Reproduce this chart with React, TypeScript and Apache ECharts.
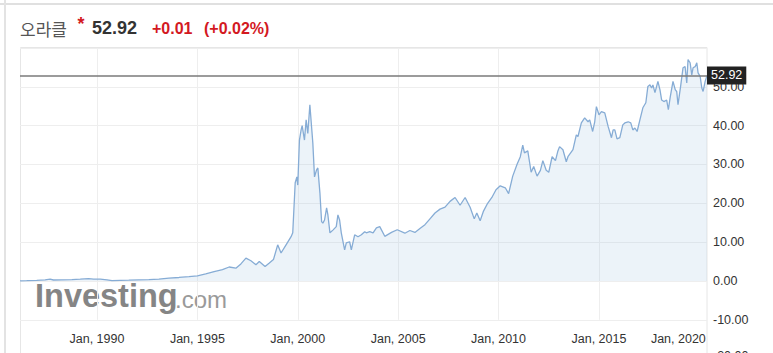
import React, { useEffect, useRef } from "react";
import * as echarts from "echarts";

const stockName = "오라클";
const lastPrice = 52.92;
const changeText = "+0.01";
const changePctText = "(+0.02%)";

const dates = [
  "1986-03-01", "1986-07-01", "1987-01-01", "1987-06-01", "1987-09-01", "1987-11-01",
  "1988-04-01", "1988-10-01", "1989-03-01", "1989-08-01", "1989-11-01", "1990-03-01",
  "1990-07-01", "1990-10-01", "1991-03-01", "1991-08-01", "1992-02-01", "1992-08-01",
  "1993-02-01", "1993-08-01", "1994-02-01", "1994-08-01", "1995-01-01", "1995-06-01",
  "1995-11-01", "1996-04-01", "1996-08-01", "1996-12-01", "1997-03-01", "1997-06-01",
  "1997-09-01", "1997-12-01", "1998-02-01", "1998-05-15", "1998-08-01", "1998-10-15",
  "1999-01-01", "1999-03-01", "1999-06-01", "1999-09-01", "1999-10-01", "1999-11-15",
  "1999-12-15", "2000-01-01", "2000-02-01", "2000-03-01", "2000-03-20", "2000-05-01",
  "2000-06-01", "2000-07-01", "2000-08-08", "2000-09-08", "2000-10-01", "2000-11-01",
  "2000-12-08", "2001-01-01", "2001-02-08", "2001-03-08", "2001-04-01", "2001-05-01",
  "2001-06-08", "2001-07-01", "2001-08-08", "2001-10-01", "2001-12-01", "2002-01-01",
  "2002-02-01", "2002-03-01", "2002-05-01", "2002-06-01", "2002-08-01", "2002-09-01",
  "2002-11-01", "2003-01-01", "2003-03-01", "2003-05-01", "2003-06-01", "2003-08-01",
  "2003-10-01", "2003-12-01", "2004-02-01", "2004-05-01", "2004-09-01", "2004-12-15",
  "2005-05-01", "2005-08-01", "2005-11-01", "2006-02-01", "2006-05-01", "2006-08-01",
  "2006-11-01", "2007-02-01", "2007-05-01", "2007-08-01", "2007-11-01", "2008-02-01",
  "2008-05-01", "2008-08-01", "2008-10-15", "2008-12-01", "2009-02-01", "2009-04-01",
  "2009-06-15", "2009-09-01", "2009-11-15", "2010-02-01", "2010-05-01", "2010-07-01",
  "2010-09-15", "2010-12-01", "2011-02-01", "2011-03-15", "2011-04-15", "2011-06-15",
  "2011-08-15", "2011-10-01", "2011-12-01", "2012-02-01", "2012-03-15", "2012-05-15",
  "2012-07-01", "2012-09-01", "2012-11-01", "2012-12-15", "2013-01-15", "2013-03-15",
  "2013-05-15", "2013-06-15", "2013-09-15", "2013-11-15", "2013-12-15", "2014-02-15",
  "2014-04-15", "2014-06-15", "2014-07-15", "2014-09-08", "2014-10-15", "2014-11-15",
  "2015-01-01", "2015-02-15", "2015-04-15", "2015-06-15", "2015-08-15", "2015-09-15",
  "2015-10-15", "2015-11-25", "2016-01-15", "2016-03-08", "2016-04-15", "2016-06-15",
  "2016-08-01", "2016-09-08", "2016-10-15", "2016-11-25", "2017-01-15", "2017-03-08",
  "2017-05-01", "2017-06-08", "2017-07-15", "2017-08-15", "2017-09-08", "2017-10-15",
  "2017-12-08", "2018-01-15", "2018-02-15", "2018-03-25", "2018-05-15", "2018-06-15",
  "2018-07-20", "2018-09-08", "2018-10-20", "2018-11-15", "2018-12-08", "2019-01-25",
  "2019-03-08", "2019-04-15", "2019-05-15", "2019-06-08", "2019-07-15", "2019-08-15",
  "2019-09-08", "2019-10-15", "2019-11-15", "2019-12-08", "2020-01-15", "2020-02-15",
  "2020-03-08", "2020-04-15", "2020-05-18",
];

const prices = [
  0.05, 0.08, 0.15, 0.3, 0.45, 0.25,
  0.3, 0.35, 0.45, 0.6, 0.5, 0.45,
  0.3, 0.1, 0.15, 0.2, 0.3, 0.35,
  0.5, 0.75, 0.9, 1.1, 1.3, 1.8,
  2.4, 2.9, 3.6, 3.3, 4.4, 5.9,
  5.2, 4.2, 5.0, 3.7, 4.6, 5.5,
  9.3, 7.2, 9.3, 11.4, 12.4, 25.3,
  26.8, 24.7, 36.3, 38.9, 40.0, 36.3,
  41.5, 38.0, 45.4, 39.8, 35.5, 26.8,
  28.6, 29.1, 22.7, 15.3, 14.9, 15.7,
  18.8, 17.0, 12.4, 13.1, 14.0, 17.0,
  15.7, 12.4, 8.0, 9.8, 10.1, 8.0,
  11.9, 11.4, 11.9, 12.7, 12.4, 12.7,
  12.4, 13.7, 14.0, 11.5, 12.5, 13.2,
  12.3, 13.0, 12.5, 13.5, 14.5, 16.0,
  17.5, 18.5, 19.0, 20.5, 21.5, 19.5,
  21.5, 19.0, 16.0, 17.5, 15.5, 18.0,
  20.0, 21.5, 23.5, 24.5, 24.0, 22.5,
  27.0, 30.0, 32.0, 35.0, 33.0, 33.5,
  28.0, 29.5, 27.0, 28.5, 31.0, 28.5,
  28.0, 32.0, 31.0, 33.5, 34.6, 33.8,
  30.7, 32.0, 33.8, 37.6, 37.2, 40.7,
  42.0, 41.0, 41.5, 38.5, 41.0, 44.9,
  42.8, 43.6, 43.3, 39.8, 36.9, 38.9,
  38.9, 36.6, 36.9, 40.2, 40.7, 41.0,
  40.7, 38.9, 39.4, 38.5, 41.5, 44.6,
  45.9, 50.1, 50.5, 49.7, 50.5, 48.5,
  51.4, 49.2, 46.6, 46.2, 46.6, 44.1,
  47.5, 51.4, 49.2, 48.8, 45.4, 50.1,
  54.9, 55.2, 51.0, 57.0, 56.2, 53.1,
  54.9, 55.2, 56.2, 53.6, 52.7, 49.7,
  48.8, 51.4, 52.92,
];

const xLabelYears = [1990, 1995, 2000, 2005, 2010, 2015, 2020];
const xGridYears = [1990, 1995, 2000, 2005, 2010, 2015];
const yMin = -10;
const yMax = 60;
const yStep = 10;
const hiddenBottomLabel = "-20.00";

function toYear(s: string): number {
  const [y, m, d] = s.split("-").map(Number);
  return y + (m - 1) / 12 + ((d || 1) - 1) / 365;
}

const FONT = "'Liberation Sans', Arial, sans-serif";
const RED = "#d3191f";

export default function App() {
  const ref = useRef<HTMLDivElement>(null);

  useEffect(() => {
    if (!ref.current) return;
    const chart = echarts.init(ref.current, undefined, { renderer: "svg" });
    const seriesData = dates.map((d, i) => [toYear(d), prices[i]]);
    const lastYear = xLabelYears[xLabelYears.length - 1];

    chart.setOption({
      animation: false,
      grid: { left: 20, right: 66, top: 48, bottom: 33.2 },
      xAxis: {
        type: "value",
        min: toYear(dates[0]),
        max: toYear(dates[dates.length - 1]),
        axisLine: { show: false },
        axisTick: { show: false, customValues: xGridYears },
        splitLine: { show: true, lineStyle: { color: "#eeeeee", width: 1 } },
        axisLabel: {
          customValues: xLabelYears,
          color: "#333",
          fontSize: 12.5,
          fontFamily: FONT,
          margin: 13,
          formatter: (v: number) =>
            Math.round(v) === lastYear ? `{e|Jan, ${Math.round(v)}}` : `Jan, ${Math.round(v)}`,
          rich: {
            e: { padding: [0, 42, 0, 0], color: "#333", fontSize: 12.5, fontFamily: FONT },
          },
        },
      },
      yAxis: {
        type: "value",
        position: "right",
        min: yMin,
        max: yMax,
        interval: yStep,
        axisLine: { show: false },
        axisTick: { show: false },
        splitLine: { show: true, lineStyle: { color: "#eeeeee", width: 1 } },
        axisLabel: {
          showMaxLabel: false,
          color: "#333",
          fontSize: 12.5,
          fontFamily: FONT,
          margin: 6,
          formatter: (v: number) => v.toFixed(2),
        },
      },
      series: [
        {
          type: "line",
          data: seriesData,
          symbol: "none",
          showSymbol: false,
          lineStyle: { color: "#86acd5", width: 1.3 },
          areaStyle: { color: "rgba(150,185,222,0.25)" },
          markLine: {
            silent: true,
            symbol: ["none", "none"],
            animation: false,
            data: [{ yAxis: lastPrice }],
            lineStyle: { color: "#7a7a7a", width: 1.5, type: "solid" },
            label: {
              show: true,
              position: "end",
              distance: 0,
              formatter: lastPrice.toFixed(2),
              backgroundColor: "#222",
              color: "#fff",
              padding: [3, 4, 2, 4],
              fontSize: 12.5,
              fontFamily: FONT,
            },
          },
        },
      ],
      graphic: [
        { type: "line", shape: { x1: 0, y1: 4, x2: 773, y2: 4 }, style: { stroke: "#e0e0e0", lineWidth: 2 }, silent: true },
        { type: "line", shape: { x1: 5, y1: 0, x2: 5, y2: 353 }, style: { stroke: "#e3e3e3", lineWidth: 2 }, silent: true },
        { type: "rect", shape: { x: 20.5, y: 47.5, width: 686.5, height: 330 }, style: { stroke: "#e6e6e6", fill: "none", lineWidth: 1 }, silent: true },
        {
          type: "text", x: 20, y: 28,
          style: { text: stockName, fontSize: 17, fontFamily: "'Noto Sans CJK KR', sans-serif", fill: "#555", textVerticalAlign: "middle", verticalAlign: "middle" },
        },
        {
          type: "text", x: 81, y: 24,
          style: { text: "*", fontSize: 18, fontWeight: "bold", fontFamily: FONT, fill: RED, textAlign: "center", align: "center", textVerticalAlign: "middle", verticalAlign: "middle" },
        },
        {
          type: "text", x: 92, y: 28,
          style: { text: lastPrice.toFixed(2), fontSize: 18, fontWeight: "bold", fontFamily: FONT, fill: "#333", textVerticalAlign: "middle", verticalAlign: "middle" },
        },
        {
          type: "text", x: 152, y: 28.5,
          style: { text: changeText, fontSize: 16, fontWeight: "bold", fontFamily: FONT, fill: RED, textVerticalAlign: "middle", verticalAlign: "middle" },
        },
        {
          type: "text", x: 204, y: 28.5,
          style: { text: changePctText, fontSize: 16, fontWeight: "bold", fontFamily: FONT, fill: RED, textVerticalAlign: "middle", verticalAlign: "middle" },
        },
        {
          type: "text", x: 35, y: 296,
          style: { text: "Investing", fontSize: 32.5, fontWeight: "bold", fontFamily: FONT, fill: "#858585", textVerticalAlign: "middle", verticalAlign: "middle" },
        },
        {
          type: "text", x: 175, y: 299,
          style: { text: ".com", fontSize: 24, fontFamily: FONT, fill: "#9a9a9a", textVerticalAlign: "middle", verticalAlign: "middle" },
        },
        {
          type: "text", x: 713, y: 349,
          style: { text: hiddenBottomLabel, fontSize: 12.5, fontFamily: FONT, fill: "#333", textVerticalAlign: "top", verticalAlign: "top" },
        },
      ],
    });
    return () => chart.dispose();
  }, []);

  return (
    <div
      ref={ref}
      style={{ position: "fixed", left: 0, top: 0, width: 773, height: 353, background: "#fff" }}
    />
  );
}
